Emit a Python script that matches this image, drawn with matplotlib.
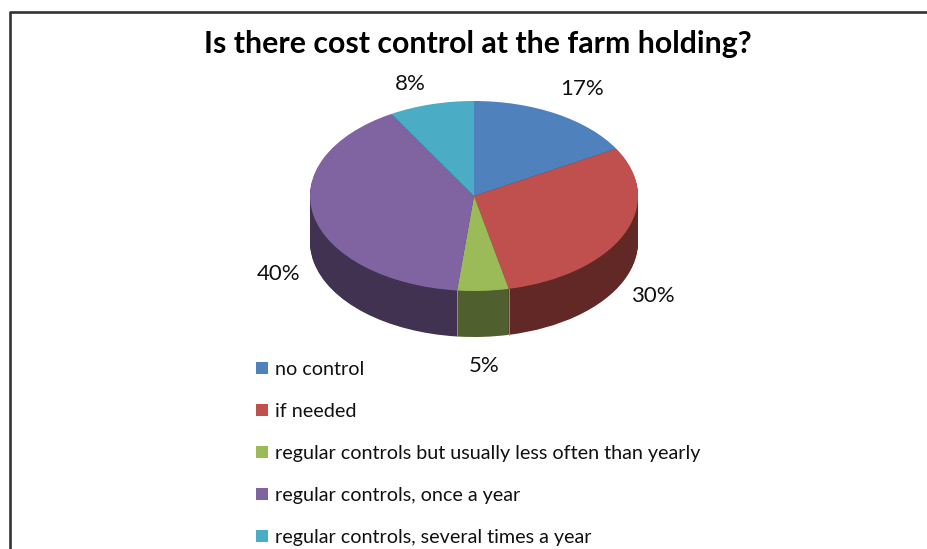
import matplotlib
matplotlib.use("Agg")
import matplotlib.pyplot as plt
import numpy as np
from matplotlib.lines import Line2D

categories = ["no control", "if needed", "regular controls but usually less often than yearly",
              "regular controls, once a year", "regular controls, several times a year"]
# slice sizes as drawn (the 3d view stretches them a little), labels as printed
values = [16.7, 29.9, 5.05, 39.95, 8.4]
value_labels = ["17%", "30%", "5%", "40%", "8%"]
colors = ["#4F81BD", "#C0504D", "#9BBB59", "#8064A2", "#4BACC6"]
dark_colors = ["#284162", "#622826", "#4F5F2D", "#413252", "#255A66"]
title = "Is there cost control at the farm holding?"

W, H = 927, 549
CX, CY = 474, 196   # pie centre in pixels
RX, RY = 164, 95    # ellipse radii in pixels
DEPTH = 46

plt.rcParams['font.family'] = ['Lato', 'DejaVu Sans']

def px(x, y):
    return x / W, 1 - y / H

fig = plt.figure(figsize=(W / 100, H / 100), dpi=100)
ax = fig.add_axes([0, 0, 1, 1])

# side wall is just the same pie stacked downwards, one pixel at a time
for d in range(DEPTH, 0, -1):
    ax.pie(values, colors=dark_colors, startangle=90, counterclock=False,
           center=(0, -d / RY), radius=1, wedgeprops={'linewidth': 0})

# faint seams on the wall where slices meet
angles = np.cumsum(values) / np.sum(values) * 2 * np.pi
for a in angles:
    if np.cos(a) < 0:
        ax.plot([np.sin(a)] * 2, [np.cos(a), np.cos(a) - DEPTH / RY], color='#9a9a8a', lw=0.6)

wedges, _ = ax.pie(values, colors=colors, startangle=90, counterclock=False,
                   center=(0, 0), radius=1, wedgeprops={'linewidth': 0})

ax.set_aspect('auto')
ax.set_xlim(-CX / RX, (W - CX) / RX)
ax.set_ylim(-(H - CY) / RY, CY / RY)
ax.axis('off')

# frame, only left and top show in the crop
fig.add_artist(Line2D([9.5 / W, 9.5 / W, 1], [0, 1 - 12 / H, 1 - 12 / H], color="#333333", lw=1.9))

x, y = px(478, 44)
fig.text(x, y, title, ha='center', va='center', fontsize=21.8, fontweight='bold', color='black')

label_pos = [(582, 89), (653, 296), (484, 366), (279, 274), (410, 84)]
for s, (lx, ly) in zip(value_labels, label_pos):
    x, y = px(lx, ly)
    fig.text(x, y, s, ha='center', va='center', fontsize=16, color='#111111')

x, y = px(252.6, 546)
handles = [Line2D([], [], marker='s', ls='none', ms=8, color=c, mew=0) for c in colors]
fig.legend(handles, categories, loc='lower left', bbox_to_anchor=(x, y), frameon=False,
           fontsize=14.2, labelspacing=1.27, handlelength=1, handletextpad=0.14,
           borderpad=0, borderaxespad=0, labelcolor='#111111')

fig.savefig("out.png", dpi=100)
